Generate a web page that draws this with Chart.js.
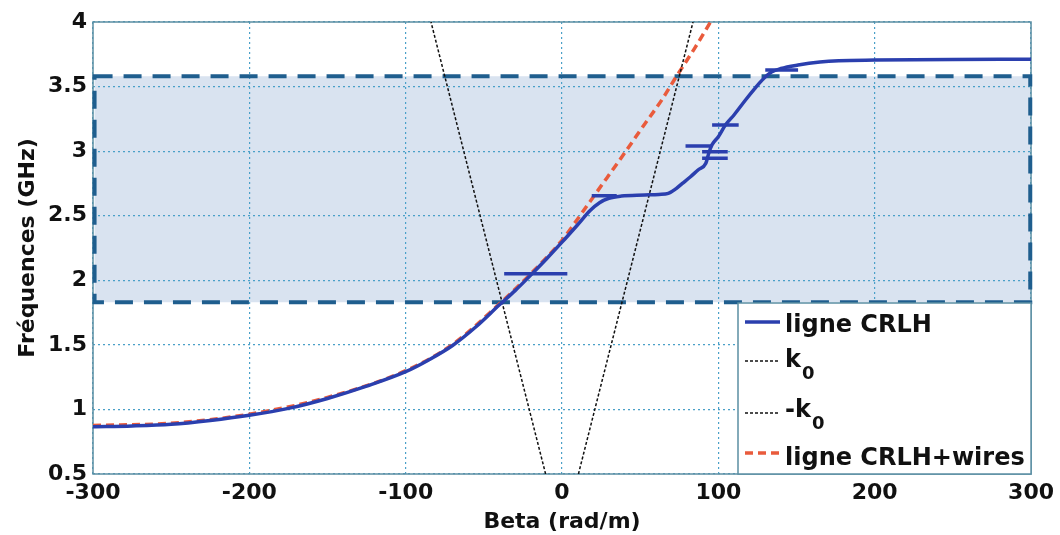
<!DOCTYPE html>
<html>
<head>
<meta charset="utf-8">
<script src="https://cdn.jsdelivr.net/npm/chart.js@4.4.0/dist/chart.umd.min.js"></script>
<style>
  body { margin: 0; background: #fff; }
  #wrap { width: 1060px; height: 535px; }
</style>
</head>
<body>
<div id="wrap"><canvas id="grafico" width="1060" height="535"></canvas></div>
<script>
// ligne CRLH : beta (rad/m) -> frequence (GHz)
const crlhBeta = [-300, -275, -250, -225, -200, -175, -150, -125, -100, -85, -70, -55, -40, -30, -20, -10, 0, 10, 18, 24, 30, 38, 53, 62, 68, 73, 77, 82, 87, 92, 94, 96, 100, 104.5, 110, 117, 123, 128, 134, 140, 151, 165, 177, 200, 250, 300];
const crlhFreq = [0.866, 0.872, 0.885, 0.915, 0.955, 1.008, 1.085, 1.18, 1.292, 1.385, 1.495, 1.64, 1.81, 1.92, 2.04, 2.165, 2.295, 2.43, 2.54, 2.6, 2.635, 2.652, 2.66, 2.665, 2.673, 2.71, 2.75, 2.8, 2.854, 2.906, 2.99, 3.05, 3.112, 3.202, 3.28, 3.39, 3.48, 3.55, 3.612, 3.64, 3.667, 3.69, 3.7, 3.705, 3.71, 3.712];

// petites branches horizontales de la ligne CRLH
const brancheDebut = [-37, 19, 89.6, 89.6, 79, 96, 130];
const brancheFin = [3.4, 35, 106, 106, 96, 113, 151];
const brancheFreq = [2.05, 2.655, 2.944, 2.996, 3.04, 3.202, 3.628];

// ligne CRLH+wires
const wiresBeta = [-300, -250, -200, -150, -100, -70, -40, -20, 0, 10, 20, 30, 40, 50, 64, 73, 85, 95];
const wiresFreq = [0.876, 0.893, 0.963, 1.093, 1.3, 1.503, 1.818, 2.05, 2.31, 2.475, 2.645, 2.815, 2.985, 3.16, 3.4, 3.575, 3.8, 4.0];

// k0 et -k0
const k0Beta = [10.5, 83.8];
const k0Freq = [0.5, 4];
const mk0Beta = [-10.5, -83.8];

// bande grisee (rectangle en tirets)
const bandeBeta = [-299, 299.5];
const bandeFreq = [1.83, 3.58];

const legende = [
  { texte: "ligne CRLH", indice: "" },
  { texte: "k", indice: "0" },
  { texte: "-k", indice: "0" },
  { texte: "ligne CRLH+wires", indice: "" }
];

const bleu = "#2b3fae";
const rouge = "#e95b3c";
const noir = "#111111";

function pts(xs, ys) {
  return xs.map((x, i) => ({ x: x, y: ys[i] }));
}

const branches = [];
brancheFreq.forEach((f, i) => {
  branches.push({ x: brancheDebut[i], y: f });
  branches.push({ x: brancheFin[i], y: f });
  branches.push({ x: null, y: null });
});

const bande = {
  id: "bande",
  beforeDraw(chart) {
    const { ctx, scales: { x, y } } = chart;
    ctx.save();
    ctx.fillStyle = "#fff";
    ctx.fillRect(0, 0, chart.width, chart.height);
    const x0 = x.getPixelForValue(bandeBeta[0]);
    const x1 = x.getPixelForValue(bandeBeta[1]);
    const y0 = y.getPixelForValue(bandeFreq[1]);
    const y1 = y.getPixelForValue(bandeFreq[0]);
    ctx.fillStyle = "#d9e3f0";
    ctx.fillRect(x0, y0, x1 - x0, y1 - y0);
    ctx.restore();
  },
  beforeDatasetsDraw(chart) {
    const { ctx, chartArea: a, scales: { x, y } } = chart;
    ctx.save();
    ctx.strokeStyle = "#5b8ea3";
    ctx.lineWidth = 1.5;
    ctx.strokeRect(a.left, a.top, a.right - a.left, a.bottom - a.top);
    const x0 = x.getPixelForValue(bandeBeta[0]);
    const x1 = x.getPixelForValue(bandeBeta[1]);
    const y0 = y.getPixelForValue(bandeFreq[1]);
    const y1 = y.getPixelForValue(bandeFreq[0]);
    ctx.strokeStyle = "#1f5e8e";
    ctx.lineWidth = 4;
    ctx.setLineDash([18, 11]);
    ctx.strokeRect(x0, y0, x1 - x0, y1 - y0);
    ctx.restore();
  },
  afterDraw(chart) {
    const ctx = chart.ctx;
    const a = chart.chartArea;
    ctx.save();
    const bx = 738, by = 303, bw = a.right - 738, bh = a.bottom - 303;
    ctx.fillStyle = "#fff";
    ctx.fillRect(bx, by, bw, bh);
    ctx.strokeStyle = "#5b8ea3";
    ctx.lineWidth = 1.5;
    ctx.strokeRect(bx, by, bw, bh);

    const lignesY = [322, 361, 413, 453];
    const baseY = [332, 367, 417, 465];
    const styles = [
      { c: bleu, w: 3.5, d: [] },
      { c: noir, w: 1.5, d: [3, 2] },
      { c: noir, w: 1.5, d: [3, 2] },
      { c: rouge, w: 3.5, d: [8, 5] }
    ];
    legende.forEach((e, i) => {
      const s = styles[i];
      ctx.strokeStyle = s.c;
      ctx.lineWidth = s.w;
      ctx.setLineDash(s.d);
      ctx.beginPath();
      ctx.moveTo(745, lignesY[i]);
      ctx.lineTo(780, lignesY[i]);
      ctx.stroke();
      ctx.setLineDash([]);
      ctx.fillStyle = noir;
      ctx.textBaseline = "alphabetic";
      ctx.font = "bold 24px 'DejaVu Sans'";
      ctx.fillText(e.texte, 785, baseY[i]);
      if (e.indice) {
        const w = ctx.measureText(e.texte).width;
        ctx.font = "bold 18px 'DejaVu Sans'";
        ctx.fillText(e.indice, 785 + w + 1, baseY[i] + 12);
      }
    });
    ctx.restore();
  }
};

const ctx = document.getElementById("grafico");

new Chart(ctx, {
  type: "scatter",
  data: {
    datasets: [
      {
        label: "ligne CRLH",
        data: pts(crlhBeta, crlhFreq),
        showLine: true,
        borderColor: bleu,
        borderWidth: 3.5,
        pointRadius: 0,
        cubicInterpolationMode: "monotone"
      },
      {
        label: "branches",
        data: branches,
        showLine: true,
        spanGaps: false,
        borderColor: bleu,
        borderWidth: 3.5,
        pointRadius: 0
      },
      {
        label: "k0",
        data: pts(k0Beta, k0Freq),
        showLine: true,
        borderColor: noir,
        borderWidth: 1.5,
        borderDash: [3, 2],
        pointRadius: 0
      },
      {
        label: "-k0",
        data: pts(mk0Beta, k0Freq),
        showLine: true,
        borderColor: noir,
        borderWidth: 1.5,
        borderDash: [3, 2],
        pointRadius: 0
      },
      {
        label: "ligne CRLH+wires",
        data: pts(wiresBeta, wiresFreq),
        showLine: true,
        borderColor: rouge,
        borderWidth: 3.5,
        borderDash: [8, 5],
        pointRadius: 0,
        cubicInterpolationMode: "monotone"
      }
    ]
  },
  options: {
    responsive: false,
    animation: false,
    layout: { padding: { top: 22, right: 27, left: 0, bottom: 0 } },
    plugins: {
      legend: { display: false },
      tooltip: { enabled: false }
    },
    scales: {
      x: {
        type: "linear",
        min: -300,
        max: 300,
        afterFit: s => { s.height = 61; },
        ticks: {
          stepSize: 100,
          color: noir,
          padding: 6,
          maxRotation: 0,
          font: { family: "DejaVu Sans", size: 22, weight: "bold" }
        },
        grid: { color: "#4aa0c8", lineWidth: 1.2, drawTicks: false, borderDash: [2, 3] },
        border: { display: false, dash: [2, 3] },
        title: {
          display: true,
          text: "Beta (rad/m)",
          color: noir,
          padding: { top: 0, bottom: 0 },
          font: { family: "DejaVu Sans", size: 22, weight: "bold" }
        }
      },
      y: {
        type: "linear",
        min: 0.5,
        max: 4,
        afterFit: s => { s.width = 93; },
        ticks: {
          stepSize: 0.5,
          color: noir,
          padding: 6,
          callback: v => String(Math.round(v * 10) / 10),
          font: { family: "DejaVu Sans", size: 22, weight: "bold" }
        },
        grid: { color: "#4aa0c8", lineWidth: 1.2, drawTicks: false, borderDash: [2, 3] },
        border: { display: false, dash: [2, 3] },
        title: {
          display: true,
          text: "Fréquences (GHz)",
          color: noir,
          padding: { top: 15, bottom: 0 },
          font: { family: "DejaVu Sans", size: 22, weight: "bold" }
        }
      }
    }
  },
  plugins: [bande]
});
</script>
</body>
</html>
